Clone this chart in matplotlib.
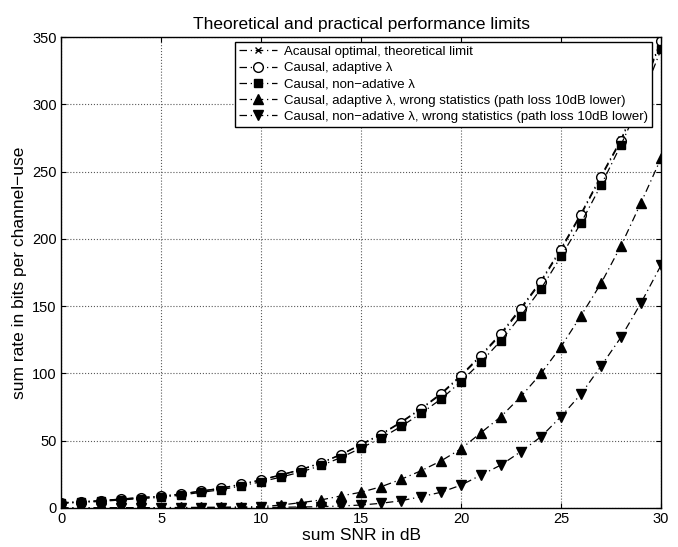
import matplotlib.pyplot as plt
import numpy as np

plt.rcParams['font.family'] = ['Liberation Sans', 'DejaVu Sans']

# sum SNR in dB
snr_db = np.arange(0, 31)

# sum rate values
acausal = [3.9, 4.7, 5.5, 6.7, 7.8, 8.7, 10.5, 12.6, 14.8, 17.7, 21.0,
           24.7, 28.7, 33.7, 39.9, 47.4, 55.0, 64.0, 74.0, 85.2, 98.8,
           113.8, 130.0, 149.0, 169.0, 193.0, 219.0, 247.0, 274.0, 309.0, 348.0]
adaptive = [3.8, 4.6, 5.4, 6.6, 7.7, 8.6, 10.4, 12.5, 14.6, 17.5, 20.8,
            24.5, 28.4, 33.4, 39.6, 47.0, 54.5, 63.5, 73.5, 84.5, 98.0,
            113.0, 129.0, 148.0, 168.0, 192.0, 218.0, 246.0, 273.0, 308.0, 347.0]
non_adaptive = [3.4, 4.1, 4.9, 6.0, 7.0, 7.9, 9.6, 11.6, 13.6, 16.4, 19.5,
                23.0, 26.8, 31.6, 37.5, 44.6, 51.9, 60.6, 70.3, 81.0, 94.0,
                108.5, 124.5, 143.0, 163.0, 187.0, 212.0, 240.0, 270.0, 303.0, 341.0]
adaptive_wrong = [0.1, 0.1, 0.15, 0.2, 0.25, 0.3, 0.4, 0.5, 0.6, 0.8, 1.0,
                  2.2, 4.0, 6.0, 9.0, 11.7, 15.8, 21.3, 27.7, 35.0, 44.0,
                  56.0, 68.0, 83.0, 100.0, 120.0, 143.0, 167.0, 195.0, 227.0, 260.0]
non_adaptive_wrong = [0.02, 0.03, 0.04, 0.05, 0.07, 0.1, 0.13, 0.17, 0.22, 0.3, 0.4,
                      0.55, 0.75, 1.0, 1.5, 2.2, 3.5, 5.4, 8.4, 11.7, 17.0,
                      24.5, 32.0, 42.0, 53.0, 68.0, 84.7, 105.5, 127.0, 152.5, 180.5]

labels = ['Acausal optimal, theoretical limit',
          'Causal, adaptive \u03bb',
          'Causal, non\u2212adative \u03bb',
          'Causal, adaptive \u03bb, wrong statistics (path loss 10dB lower)',
          'Causal, non\u2212adative \u03bb, wrong statistics (path loss 10dB lower)']

fig = plt.figure(figsize=(6.78, 5.47), dpi=100)
ax = fig.add_axes([0.09, 0.0713, 0.885, 0.8607])

dashdot = (0, (6, 3, 1, 3))
ax.plot(snr_db, acausal, color='k', ls=dashdot, marker='x', lw=0.9, ms=5, label=labels[0])
ax.plot(snr_db, adaptive, color='k', ls=dashdot, marker='o', lw=0.9, ms=7, mfc='white', label=labels[1])
ax.plot(snr_db, non_adaptive, color='k', ls=dashdot, marker='s', lw=0.9, ms=6, label=labels[2])
ax.plot(snr_db, adaptive_wrong, color='k', ls=dashdot, marker='^', lw=0.9, ms=7.5, label=labels[3])
ax.plot(snr_db, non_adaptive_wrong, color='k', ls=dashdot, marker='v', lw=0.9, ms=7.5, label=labels[4])

ax.set_xlim(0, 30)
ax.set_ylim(0, 350)
ax.set_xticks(range(0, 31, 5))
ax.set_yticks(range(0, 351, 50))
ax.tick_params(direction='in', top=True, right=True, labelsize=10.5, pad=3)
ax.grid(True, linestyle=':', color='0.35', lw=0.8)
for s in ax.spines.values():
    s.set_linewidth(1.0)

ax.set_title('Theoretical and practical performance limits', fontsize=12.5, pad=6)
ax.set_xlabel('sum SNR in dB', fontsize=12.5, labelpad=1)
ax.set_ylabel('sum rate in bits per channel\u2212use', fontsize=12.5, labelpad=4)

leg = ax.legend(loc='upper right', fontsize=9.5, fancybox=False, framealpha=1,
                edgecolor='black', bbox_to_anchor=(0.985, 0.99), borderaxespad=0,
                handlelength=2.9, labelspacing=0.3, borderpad=0.3, handletextpad=0.5)
leg.get_frame().set_linewidth(1.0)

fig.savefig('out.png', dpi=100)
